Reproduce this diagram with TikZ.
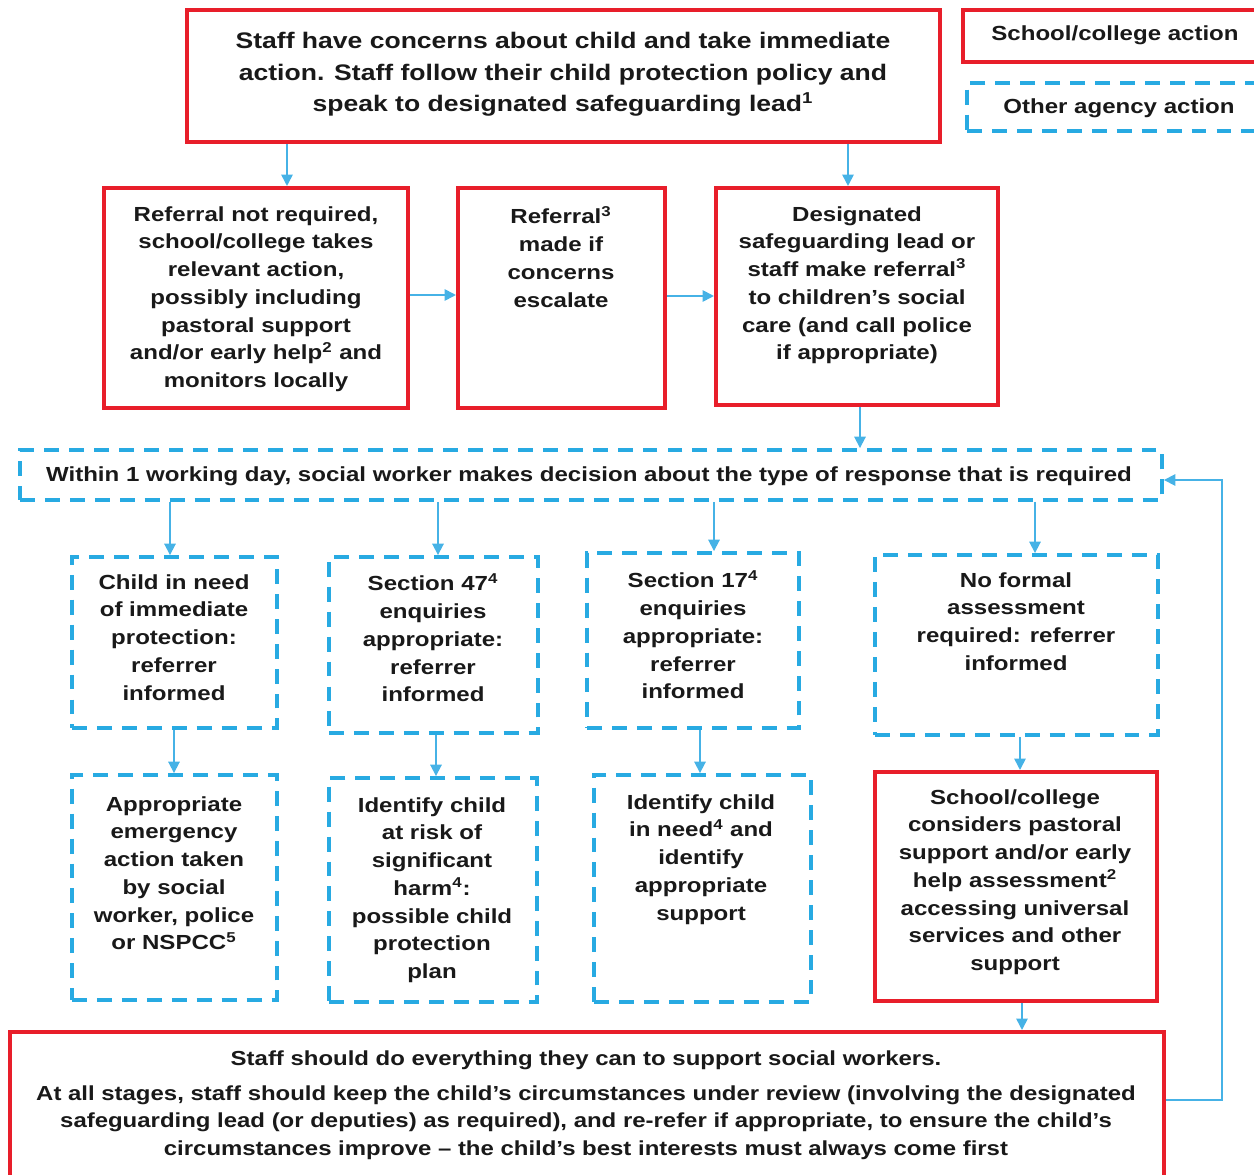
\documentclass[tikz,border=0pt]{standalone}
\usepackage{fontspec}
\setmainfont{Liberation Sans}[FakeStretch=1.18]
\usepackage{tikz}
\usetikzlibrary{arrows.meta,positioning,fit}

\definecolor{actred}{RGB}{232,30,42}
\definecolor{agencyblue}{RGB}{40,170,226}
\definecolor{arrowblue}{RGB}{70,178,230}
\definecolor{inkgrey}{RGB}{25,25,25}

\tikzset{
  redbox/.style={draw=actred, line width=2.3pt, inner sep=0pt},
  bluebox/.style={draw=agencyblue, line width=2.2pt,
    dash pattern=on 8.5pt off 5.7pt, inner sep=0pt},
  txt/.style={inner sep=0pt, align=center, text=inkgrey,
    font=\bfseries\fontsize{11.6}{15.8}\selectfont},
  arr/.style={draw=arrowblue, line width=1pt,
    -{Triangle[length=6.5pt,width=6.5pt]}}
}

\begin{document}
\begin{tikzpicture}[x=0.02cm, y=-0.02cm]
\useasboundingbox (0,0) rectangle (1254,1175);

% Legend
\node[redbox, fit={(963,10) (1264,62)}] (legschool) {};
\node[txt] (legschool-txt) at (1115,35) {School/college action};
\node[bluebox, fit={(967,83) (1264,131)}] (legagency) {};
\node[txt] (legagency-txt) at (1119,108) {Other agency action};

% Starting point
\node[redbox, fit={(187,10) (940,142)}] (concern) {};
\node[txt, anchor=north, font=\bfseries\fontsize{12.8}{17.9}\selectfont]
  (concern-txt) at (563,32) {Staff have concerns about child and take immediate\\
  action. Staff follow their child protection policy and\\
  speak to designated safeguarding lead\textsuperscript{1}};

% School/college decisions
\node[redbox, fit={(104,188) (408,408)}] (refno) {};
\node[txt, anchor=north] (refno-txt) at (256,206) {Referral not required,\\
  school/college takes\\ relevant action,\\ possibly including\\
  pastoral support\\ and/or early help\textsuperscript{2} and\\ monitors locally};

\node[redbox, fit={(458,188) (665,408)}] (refesc) {};
\node[txt, anchor=north] (refesc-txt) at (561,206) {Referral\textsuperscript{3}\\
  made if\\ concerns\\ escalate};

\node[redbox, fit={(716,188) (998,405)}] (dslref) {};
\node[txt, anchor=north] (dslref-txt) at (857,206) {Designated\\
  safeguarding lead or\\ staff make referral\textsuperscript{3}\\
  to children’s social\\ care (and call police\\ if appropriate)};

% Social care decision
\node[bluebox, fit={(20,450) (1162,500)}] (within) {};
\node[txt] (within-txt) at (589,476) {Within 1 working day, social worker
  makes decision about the type of response that is required};

% Responses
\node[bluebox, fit={(72,557) (277,728)}] (immed) {};
\node[txt, anchor=north] (immed-txt) at (174,574) {Child in need\\
  of immediate\\ protection:\\ referrer\\ informed};

\node[bluebox, fit={(329,557) (538,733)}] (sec47) {};
\node[txt, anchor=north] (sec47-txt) at (433,573) {Section 47\textsuperscript{4}\\
  enquiries\\ appropriate:\\ referrer\\ informed};

\node[bluebox, fit={(587,553) (799,728)}] (sec17) {};
\node[txt, anchor=north] (sec17-txt) at (693,570) {Section 17\textsuperscript{4}\\
  enquiries\\ appropriate:\\ referrer\\ informed};

\node[bluebox, fit={(875,555) (1158,735)}] (noform) {};
\node[txt, anchor=north] (noform-txt) at (1016,572) {No formal\\
  assessment\\ required: referrer\\ informed};

% Outcomes
\node[bluebox, fit={(72,775) (277,1000)}] (emerg) {};
\node[txt, anchor=north] (emerg-txt) at (174,796) {Appropriate\\
  emergency\\ action taken\\ by social\\ worker, police\\ or NSPCC\textsuperscript{5}};

\node[bluebox, fit={(329,778) (537,1002)}] (harm) {};
\node[txt, anchor=north] (harm-txt) at (432,797) {Identify child\\
  at risk of\\ significant\\ harm\textsuperscript{4}:\\ possible child\\
  protection\\ plan};

\node[bluebox, fit={(594,775) (811,1002)}] (inneed) {};
\node[txt, anchor=north] (inneed-txt) at (701,794) {Identify child\\
  in need\textsuperscript{4} and\\ identify\\ appropriate\\ support};

\node[redbox, fit={(875,772) (1157,1001)}] (pastoral) {};
\node[txt, anchor=north] (pastoral-txt) at (1015,789) {School/college\\
  considers pastoral\\ support and/or early\\ help assessment\textsuperscript{2}\\
  accessing universal\\ services and other\\ support};

% Review
\node[redbox, fit={(10,1032) (1164,1185)}] (review) {};
\node[txt, anchor=north, font=\bfseries\fontsize{11.55}{15.9}\selectfont]
  (review-txt) at (586,1050) {Staff should do everything they can to support
  social workers.\\[4pt]
  At all stages, staff should keep the child’s circumstances under review
  (involving the designated\\ safeguarding lead (or deputies) as required),
  and re-refer if appropriate, to ensure the child’s\\ circumstances improve
  – the child’s best interests must always come first};

% Connectors
\draw[arr] (concern.south -| 287,0) -- (refno.north -| 287,0);
\draw[arr] (concern.south -| 848,0) -- (dslref.north -| 848,0);
\draw[arr] (refno.east |- 0,295) -- (refesc.west |- 0,295);
\draw[arr] (refesc.east |- 0,296) -- (dslref.west |- 0,296);
\draw[arr] (dslref.south -| 860,0) -- (within.north -| 860,0);

\draw[arr] (within.south -| 170,0) -- (immed.north -| 170,0);
\draw[arr] (within.south -| 438,0) -- (sec47.north -| 438,0);
\draw[arr] (within.south -| 714,0) -- (sec17.north -| 714,0);
\draw[arr] (within.south -| 1035,0) -- (noform.north -| 1035,0);

\draw[arr] (immed.south -| 174,0) -- (emerg.north -| 174,0);
\draw[arr] (sec47.south -| 436,0) -- (harm.north -| 436,0);
\draw[arr] (sec17.south -| 700,0) -- (inneed.north -| 700,0);
\draw[arr] (noform.south -| 1020,0) -- (pastoral.north -| 1020,0);
\draw[arr] (pastoral.south -| 1022,0) -- (review.north -| 1022,0);

% Feedback loop
\draw[arr] (review.east |- 0,1100) -- (1222,1100) |- (within.east |- 0,480);

\end{tikzpicture}
\end{document}
